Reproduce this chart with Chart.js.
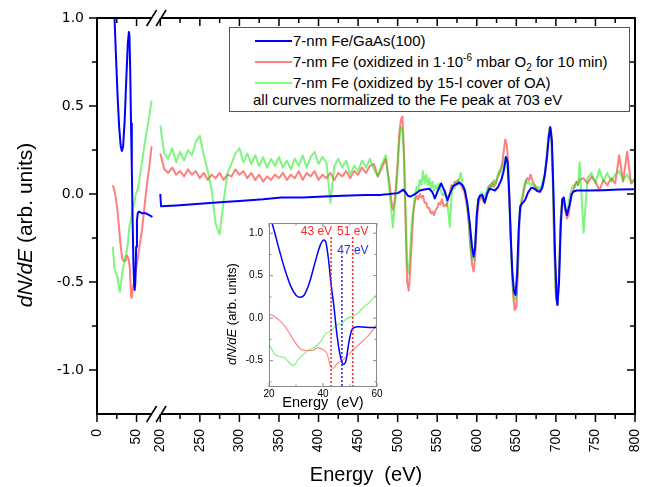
<!DOCTYPE html>
<html>
<head>
<meta charset="utf-8">
<title>dN/dE spectra of 7-nm Fe films</title>
<script src="https://cdn.jsdelivr.net/npm/chart.js@4.4.1/dist/chart.umd.min.js"></script>
<style>
  html, body { margin:0; padding:0; background:#fff; }
  #wrap { position:relative; width:649px; height:487px; overflow:hidden; background:#fff; }
  #main { position:absolute; left:0; top:0; }
  #inset { position:absolute; left:220px; top:215px; }
  #legend { position:absolute; left:229px; top:27px; width:399px; height:83px; border:1px solid #555; background:#fff;
            font-family:"Liberation Sans", Arial, Helvetica, sans-serif; font-size:15px; color:#000; }
  #legend .row { position:absolute; white-space:nowrap; line-height:18px; height:18px; }
  #legend .sw { position:absolute; width:37px; height:2px; }
  #legend sup, #legend sub { font-size:10px; line-height:0; }
</style>
</head>
<body>
<div id="wrap">
  <canvas id="main" width="649" height="487"></canvas>
  <div id="legend">
    <div class="sw" style="left:25px;top:12px;background:#0000ff"></div>
    <div class="row" style="left:63px;top:4px">7-nm Fe/GaAs(100)</div>
    <div class="sw" style="left:25px;top:33px;background:#ff8080"></div>
    <div class="row" style="left:63px;top:25px">7-nm Fe (oxidized in 1·10<sup>-6</sup> mbar O<sub>2</sub> for 10 min)</div>
    <div class="sw" style="left:25px;top:54px;background:#80ff80"></div>
    <div class="row" style="left:63px;top:46px">7-nm Fe (oxidized by 15-l cover of OA)</div>
    <div class="row" style="left:23px;top:63px">all curves normalized to the Fe peak at 703 eV</div>
  </div>
  <canvas id="inset" width="180" height="200"></canvas>
</div>
<script>
// ===================== DATA =====================
// Low-energy segment (20-70 eV)
const blueLeftE = [20, 22, 24, 26, 28, 30, 31.5, 33, 35, 37,
                   39, 40.3, 41, 42, 43, 44, 45, 46, 47, 47.6,
                   48.5, 49.5, 50.5, 51.5, 53, 55, 58, 62, 66, 70];
const blueLeft  = [1.25, 1.02, 0.78, 0.56, 0.38, 0.27, 0.245, 0.27, 0.42, 0.65,
                   0.86, 0.92, 0.90, 0.70, 0.40, 0.15, -0.15, -0.38, -0.52, -0.545,
                   -0.50, -0.30, -0.15, -0.11, -0.10, -0.105, -0.11, -0.11, -0.12, -0.13];

const redLeftE = [20, 22, 24, 26, 28, 30, 32, 34, 36, 38,
                  40, 41.5, 43, 44, 45, 47, 49, 51, 53, 55,
                  57, 60, 63, 66, 69];
const redLeft  = [0.05, 0.02, -0.03, -0.10, -0.20, -0.30, -0.37, -0.38, -0.38, -0.35,
                  -0.37, -0.42, -0.58, -0.59, -0.54, -0.50, -0.44, -0.38, -0.32, -0.26,
                  -0.20, -0.07, 0.05, 0.15, 0.27];

const greenLeftE = [20, 22, 24, 26, 28, 29, 31, 33, 35, 37,
                    39, 41, 43, 45, 47, 49, 51, 53, 55, 57,
                    60, 63, 66, 69];
const greenLeft  = [-0.30, -0.42, -0.45, -0.47, -0.54, -0.555, -0.48, -0.42, -0.37, -0.34,
                    -0.28, -0.18, -0.15, -0.08, -0.06, 0.0, 0.02, 0.06, 0.13, 0.18,
                    0.28, 0.36, 0.44, 0.53];

// High-energy segment (200-800 eV)
const blueRightE = [200, 201, 220, 250, 280, 300, 330, 353, 380, 400,
                    430, 460, 477, 490, 500, 504, 507, 510, 513, 516,
                    522, 528, 534, 540, 544, 547, 551, 555, 559, 563,
                    566, 570, 574, 578, 582, 585, 588, 591, 594, 596,
                    598, 600, 602, 604, 607, 610, 613, 616, 620, 623,
                    627, 631, 634, 637, 639, 641, 643, 645, 647, 649,
                    651, 653, 655, 658, 661, 665, 669, 673, 677, 680,
                    683, 686, 689, 691, 693, 695, 697, 699, 701, 702,
                    704, 706, 708, 710, 712, 714, 717, 720, 722, 726,
                    740, 760, 780, 800];
const blueRight  = [0.0, -0.07, -0.065, -0.055, -0.045, -0.04, -0.03, -0.02, -0.02, -0.015,
                    -0.01, -0.005, -0.005, 0.0, 0.005, 0.015, 0.025, 0.01, -0.01, -0.015,
                    0.0, 0.02, 0.025, 0.03, 0.01, -0.025, 0.02, 0.06, 0.02, -0.035,
                    0.0, 0.045, 0.055, 0.065, 0.05, 0.02, -0.05, -0.16, -0.30, -0.355,
                    -0.30, -0.12, -0.03, -0.01, -0.005, -0.05, 0.0, 0.03, 0.025, 0.02,
                    0.04, 0.08, 0.13, 0.21, 0.18, 0.0, -0.25, -0.45, -0.55, -0.573,
                    -0.45, -0.20, -0.07, -0.05, -0.035, 0.01, 0.036, 0.03, 0.015, 0.013,
                    0.04, 0.11, 0.22, 0.32, 0.38, 0.30, 0.0, -0.35, -0.60, -0.63,
                    -0.50, -0.20, -0.03, -0.02, -0.08, -0.12, -0.07, 0.0, 0.013, 0.02,
                    0.02, 0.022, 0.025, 0.027];

const noisyE = [200, 205, 210, 215, 220, 225, 230, 235, 240, 245,
                250, 255, 260, 265, 270, 275, 280, 285, 290, 295,
                300, 305, 310, 315, 320, 325, 330, 335, 340, 345,
                350, 355, 360, 365, 370, 375, 380, 385, 390, 395,
                400, 405, 410, 415, 420, 425, 430, 435, 440, 445,
                450, 455, 460, 465, 470, 475, 480, 485, 490,
                492, 494, 496, 498, 500, 502, 504, 506, 508, 510,
                512, 514, 516, 518, 520, 522, 524, 526, 528, 530,
                532, 534, 536, 538, 540, 542, 544, 546, 548, 550,
                552, 554, 556, 558, 560, 562, 564, 566, 568, 570,
                572, 574, 576, 578, 580, 582, 584, 586, 588, 590,
                592, 594, 596, 598, 600, 602, 604, 606, 608, 610,
                612, 614, 616, 618, 620, 622, 624, 626, 628, 630,
                632, 634, 636, 638, 640, 642, 644, 646, 648, 650,
                652, 654, 656, 658, 660, 662, 664, 666, 668, 670,
                672, 674, 676, 678, 680, 682, 684, 686, 688, 690,
                692, 694, 696, 698, 700, 702, 704, 706, 708, 710,
                712, 714, 716, 718, 720, 722, 724, 726, 728, 730,
                735, 740, 745, 750, 755, 760, 765, 770, 775, 780,
                785, 790, 795, 800];

const redRight = [0.23, 0.14, 0.12, 0.15, 0.11, 0.13, 0.10, 0.14, 0.11, 0.13,
                  0.09, 0.12, 0.08, 0.11, 0.09, 0.12, 0.08, 0.11, 0.10, 0.14,
                  0.11, 0.13, 0.09, 0.12, 0.08, 0.11, 0.07, 0.10, 0.08, 0.11,
                  0.09, 0.12, 0.08, 0.11, 0.09, 0.13, 0.08, 0.12, 0.10, 0.13,
                  0.08, 0.11, 0.09, 0.12, 0.08, 0.12, 0.10, 0.13, 0.09, 0.13,
                  0.11, 0.15, 0.12, 0.16, 0.17, 0.10, 0.15, 0.20, 0.05,
                  -0.04, -0.09, -0.05, 0.05, 0.18, 0.34, 0.42, 0.44, 0.25, -0.15,
                  -0.50, -0.55, -0.42, -0.25, -0.10, -0.04, -0.01, -0.03, 0.0, -0.02,
                  -0.01, -0.05, -0.05, -0.08, -0.08, -0.11, -0.10, -0.12, -0.09, -0.08,
                  -0.05, -0.06, -0.03, -0.07, -0.06, -0.07, -0.02, 0.01, 0.05, 0.04,
                  0.07, 0.06, 0.08, 0.06, 0.05, 0.03, 0.02, -0.03, -0.08, -0.17,
                  -0.30, -0.40, -0.44, -0.36, -0.17, -0.06, -0.03, -0.01, -0.04, -0.05,
                  -0.02, 0.02, 0.05, 0.04, 0.07, 0.04, 0.06, 0.09, 0.11, 0.14,
                  0.17, 0.24, 0.31, 0.28, 0.15, -0.10, -0.38, -0.58, -0.66, -0.64,
                  -0.45, -0.15, -0.06, -0.02, 0.03, 0.07, 0.09, 0.08, 0.11, 0.08,
                  0.06, 0.04, 0.03, 0.02, 0.015, 0.03, 0.06, 0.10, 0.18, 0.30,
                  0.38, 0.36, 0.10, -0.30, -0.58, -0.63, -0.45, -0.15, -0.04, -0.05,
                  -0.10, -0.14, -0.12, -0.05, 0.0, 0.02, 0.05, 0.07, 0.05, 0.08,
                  0.09, 0.06, 0.10, 0.07, 0.02, 0.08, 0.05, 0.09, 0.06, 0.22,
                  0.07, 0.24, 0.06, 0.08];

const greenRight = [0.39, 0.23, 0.20, 0.26, 0.18, 0.24, 0.19, 0.25, 0.22, 0.30,
                    0.33, 0.22, 0.13, 0.02, -0.17, -0.23, -0.04, 0.12, 0.17, 0.23,
                    0.26, 0.18, 0.23, 0.17, 0.22, 0.16, 0.21, 0.15, 0.20, 0.16,
                    0.21, 0.15, 0.19, 0.14, 0.20, 0.16, 0.22, 0.15, 0.21, 0.24,
                    0.17, 0.21, 0.18, -0.05, 0.16, 0.20, 0.15, 0.19, 0.11, 0.16,
                    0.13, 0.19, 0.15, 0.20, 0.14, 0.10, 0.17, 0.22, 0.0,
                    -0.09, -0.19, -0.08, 0.0, 0.15, 0.30, 0.38, 0.36, 0.20, -0.10,
                    -0.40, -0.45, -0.32, -0.15, -0.08, 0.0, 0.04, 0.02, 0.08, 0.05,
                    0.13, 0.06, 0.11, 0.05, 0.09, 0.03, 0.07, 0.02, 0.05, 0.03,
                    0.06, 0.03, 0.0, -0.01, 0.02, -0.03, -0.10, -0.185, -0.02, 0.05,
                    0.03, 0.07, 0.05, 0.09, 0.12, 0.05, 0.04, 0.0, -0.07, -0.17,
                    -0.30, -0.37, -0.375, -0.28, -0.10, -0.03, -0.015, 0.01, -0.03, -0.02,
                    0.01, 0.04, 0.02, 0.06, 0.04, 0.08, 0.06, 0.10, 0.13, 0.12,
                    0.15, 0.18, 0.21, 0.20, 0.08, -0.15, -0.40, -0.55, -0.60, -0.58,
                    -0.42, -0.10, -0.05, 0.0, 0.05, 0.08, 0.06, 0.07, 0.05, 0.06,
                    0.04, 0.05, 0.03, 0.04, 0.03, 0.05, 0.08, 0.12, 0.20, 0.30,
                    0.37, 0.35, 0.10, -0.30, -0.58, -0.62, -0.45, -0.15, -0.04, -0.04,
                    -0.08, -0.09, -0.06, 0.0, 0.03, 0.05, 0.04, 0.07, 0.05, 0.18,
                    -0.22, 0.09, 0.12, 0.06, 0.14, 0.07, 0.12, 0.07, 0.11, 0.13,
                    0.08, 0.11, 0.07, 0.09];

// Tick values
const xMajorTicks = [0, 50, 200, 250, 300, 350, 400, 450, 500, 550, 600, 650, 700, 750, 800];
const xMinorTicks = [25, 225, 275, 325, 375, 425, 475, 525, 575, 625, 675, 725, 775];
const yMajorTicks = [-1.0, -0.5, 0.0, 0.5, 1.0];
const yMinorTicks = [-0.75, -0.25, 0.25, 0.75];
const insetXTicks = [20, 40, 60];
const insetXMinor = [30, 50];
const insetYTicks = [-0.5, 0.0, 0.5, 1.0];
const insetYMinor = [-0.75, -0.25, 0.25, 0.75];
const markerE = [43, 47, 51];

// ===================== HELPERS =====================
if (noisyE.length !== redRight.length || noisyE.length !== greenRight.length ||
    blueRightE.length !== blueRight.length || blueLeftE.length !== blueLeft.length ||
    redLeftE.length !== redLeft.length || greenLeftE.length !== greenLeft.length) {
  console.error('data length mismatch');
}
// Broken axis: the 200-800 eV part is drawn shifted left by SHIFT eV.
const SHIFT = 120;
const toV = e => (e >= 100 ? e - SHIFT : e);
const fromV = v => (v >= 75 ? v + SHIFT : v);
const BREAK_A = 69, BREAK_B = 81;

const FONT = '"Liberation Sans", Arial, Helvetica, sans-serif';
const BLUE = '#0000ff';
const RED = 'rgba(255,0,0,0.5)';
const GREEN = 'rgba(0,235,0,0.5)';

function pts(E, Y, map) { return E.map((e, i) => ({ x: map(e), y: Y[i] })); }
function mainSeries(LE, LY, RE, RY) {
  return pts(LE, LY, toV).concat([{ x: 75, y: null }], pts(RE, RY, toV));
}
function line(ctx, x1, y1, x2, y2) { ctx.beginPath(); ctx.moveTo(x1, y1); ctx.lineTo(x2, y2); ctx.stroke(); }
function fixX(h) { return s => { s.height = h; s.paddingLeft = 0; s.paddingRight = 0; }; }
function fixY(w) { return s => { s.width = w; s.paddingTop = 0; s.paddingBottom = 0; }; }

function drawMixedRotated(ctx, cx, cy, parts) {
  ctx.save();
  ctx.translate(cx, cy);
  ctx.rotate(-Math.PI / 2);
  let total = 0;
  parts.forEach(p => { ctx.font = p.font; p.w = ctx.measureText(p.text).width; total += p.w; });
  let sx = -total / 2;
  ctx.textAlign = 'left'; ctx.textBaseline = 'middle';
  parts.forEach(p => { ctx.font = p.font; ctx.fillText(p.text, sx, 0); sx += p.w; });
  ctx.restore();
}

// ===================== MAIN CHART =====================
const mainFrame = {
  id: 'mainFrame',
  afterDraw(chart) {
    const { ctx, chartArea: a, scales: { x, y } } = chart;
    ctx.save();
    ctx.strokeStyle = '#000';
    ctx.lineWidth = 2;
    const b1 = x.getPixelForValue(BREAK_A), b2 = x.getPixelForValue(BREAK_B);
    line(ctx, a.left, a.top - 1, a.left, a.bottom + 1);
    line(ctx, a.right, a.top - 1, a.right, a.bottom + 1);
    [a.top, a.bottom].forEach(yy => { line(ctx, a.left, yy, b1, yy); line(ctx, b2, yy, a.right, yy); });
    ctx.lineWidth = 1.5;
    xMajorTicks.forEach(e => { const p = x.getPixelForValue(toV(e)); line(ctx, p, a.bottom, p, a.bottom + 8); line(ctx, p, a.top, p, a.top + 8); });
    xMinorTicks.forEach(e => { const p = x.getPixelForValue(toV(e)); line(ctx, p, a.bottom, p, a.bottom + 5); line(ctx, p, a.top, p, a.top + 5); });
    yMajorTicks.forEach(v => { const p = y.getPixelForValue(v); line(ctx, a.left - 8, p, a.left, p); line(ctx, a.right - 8, p, a.right, p); });
    yMinorTicks.forEach(v => { const p = y.getPixelForValue(v); line(ctx, a.left - 5, p, a.left, p); line(ctx, a.right - 5, p, a.right, p); });
    [b1, b2].forEach(b => [a.top, a.bottom].forEach(yy => line(ctx, b - 5, yy + 8, b + 5, yy - 8)));
    // axis titles
    ctx.fillStyle = '#000';
    ctx.font = '20px ' + FONT;
    ctx.textAlign = 'center'; ctx.textBaseline = 'alphabetic';
    ctx.fillText('Energy  (eV)', (a.left + a.right) / 2, 481);
    drawMixedRotated(ctx, 26, 225, [
      { text: 'dN/dE', font: 'italic 21px ' + FONT },
      { text: ' (arb. units)', font: '21px ' + FONT }
    ]);
    ctx.restore();
  }
};

new Chart(document.getElementById('main'), {
  type: 'line',
  data: {
    datasets: [
      { label: '7-nm Fe/GaAs(100)', data: mainSeries(blueLeftE, blueLeft, blueRightE, blueRight), borderColor: BLUE, borderWidth: 2 },
      { label: '7-nm Fe (oxidized by 15-l cover of OA)', data: mainSeries(greenLeftE, greenLeft, noisyE, greenRight), borderColor: GREEN, borderWidth: 2 },
      { label: '7-nm Fe (oxidized in 1e-6 mbar O2 for 10 min)', data: mainSeries(redLeftE, redLeft, noisyE, redRight), borderColor: RED, borderWidth: 2 }
    ]
  },
  options: {
    responsive: false, animation: false, devicePixelRatio: 1,
    spanGaps: false,
    elements: { point: { radius: 0 }, line: { tension: 0, borderJoinStyle: 'round' } },
    layout: { padding: { left: 0, right: 14, top: 18, bottom: 0 } },
    plugins: { legend: { display: false }, tooltip: { enabled: false } },
    scales: {
      x: {
        type: 'linear', min: 0, max: toV(800),
        afterBuildTicks: s => { s.ticks = xMajorTicks.map(e => ({ value: toV(e) })); },
        afterFit: fixX(73),
        grid: { display: false, drawTicks: false }, border: { display: false },
        ticks: { autoSkip: false, maxRotation: 90, minRotation: 90, padding: 15, color: '#000',
                 font: { family: FONT, size: 14 }, callback: v => String(fromV(v)) }
      },
      y: {
        type: 'linear', min: -1.25, max: 1.0,
        afterBuildTicks: s => { s.ticks = yMajorTicks.map(v => ({ value: v })); },
        afterFit: fixY(97),
        grid: { display: false, drawTicks: false }, border: { display: false },
        ticks: { padding: 13, color: '#000', font: { family: '"DejaVu Sans", sans-serif', size: 14 },
                 callback: v => Number(v).toFixed(1) }
      }
    }
  },
  plugins: [mainFrame]
});

// ===================== INSET =====================
const insetFrame = {
  id: 'insetFrame',
  beforeDatasetsDraw(chart) {
    const { ctx, chartArea: a } = chart;
    ctx.save(); ctx.fillStyle = '#fff';
    ctx.fillRect(a.left, a.top, a.right - a.left, a.bottom - a.top);
    ctx.restore();
  },
  afterDraw(chart) {
    const { ctx, chartArea: a, scales: { x, y } } = chart;
    ctx.save();
    // marker lines
    const mColors = ['#ff2a2a', '#2a2aff', '#ff2a2a'];
    const mStart = [14, 33, 14];
    markerE.forEach((e, i) => {
      const p = x.getPixelForValue(e);
      ctx.strokeStyle = mColors[i]; ctx.lineWidth = 1.6; ctx.setLineDash([2, 2]);
      line(ctx, p, a.top + mStart[i], p, a.bottom);
    });
    ctx.setLineDash([]);
    // marker labels
    ctx.font = '12px ' + FONT; ctx.textBaseline = 'middle';
    ctx.fillStyle = mColors[0]; ctx.textAlign = 'right';
    ctx.fillText(markerE[0] + ' eV', x.getPixelForValue(markerE[0]) + 1, a.top + 9);
    ctx.fillStyle = mColors[2]; ctx.textAlign = 'center';
    ctx.fillText(markerE[2] + ' eV', x.getPixelForValue(markerE[2]), a.top + 9);
    ctx.fillStyle = mColors[1]; ctx.textAlign = 'center';
    ctx.fillText(markerE[1] + ' eV', x.getPixelForValue(markerE[1]) + 11, a.top + 28);
    // frame
    ctx.strokeStyle = '#8a8a8a'; ctx.lineWidth = 1;
    ctx.strokeRect(a.left + 0.5, a.top + 0.5, a.right - a.left - 1, a.bottom - a.top - 1);
    insetXTicks.forEach(e => { const p = x.getPixelForValue(e); line(ctx, p, a.bottom, p, a.bottom - 4); line(ctx, p, a.top, p, a.top + 4); });
    insetXMinor.forEach(e => { const p = x.getPixelForValue(e); line(ctx, p, a.bottom, p, a.bottom - 2.5); line(ctx, p, a.top, p, a.top + 2.5); });
    insetYTicks.forEach(v => { const p = y.getPixelForValue(v); line(ctx, a.left, p, a.left + 4, p); line(ctx, a.right, p, a.right - 4, p); });
    insetYMinor.forEach(v => { const p = y.getPixelForValue(v); line(ctx, a.left, p, a.left + 2.5, p); line(ctx, a.right, p, a.right - 2.5, p); });
    // titles
    ctx.fillStyle = '#000';
    ctx.font = '14.5px ' + FONT; ctx.textAlign = 'center'; ctx.textBaseline = 'alphabetic';
    ctx.fillText('Energy  (eV)', (a.left + a.right) / 2, 192);
    drawMixedRotated(ctx, 12, 99, [
      { text: 'dN/dE', font: 'italic 13px ' + FONT },
      { text: ' (arb. units)', font: '13px ' + FONT }
    ]);
    ctx.restore();
  }
};

new Chart(document.getElementById('inset'), {
  type: 'line',
  data: {
    datasets: [
      { data: pts(blueLeftE, blueLeft, e => e), borderColor: BLUE, borderWidth: 1.5 },
      { data: pts(greenLeftE, greenLeft, e => e), borderColor: 'rgba(0,235,0,0.55)', borderWidth: 1.1 },
      { data: pts(redLeftE, redLeft, e => e), borderColor: 'rgba(255,0,0,0.5)', borderWidth: 1.1 }
    ]
  },
  options: {
    responsive: false, animation: false, devicePixelRatio: 1,
    elements: { point: { radius: 0 }, line: { cubicInterpolationMode: 'monotone' } },
    layout: { padding: { left: 0, right: 23, top: 8, bottom: 0 } },
    plugins: { legend: { display: false }, tooltip: { enabled: false } },
    scales: {
      x: {
        type: 'linear', min: 20, max: 60,
        afterBuildTicks: s => { s.ticks = insetXTicks.map(v => ({ value: v })); },
        afterFit: fixX(28),
        grid: { display: false, drawTicks: false }, border: { display: false },
        ticks: { autoSkip: false, maxRotation: 0, minRotation: 0, padding: 1, color: '#000',
                 font: { family: FONT, size: 10 } }
      },
      y: {
        type: 'linear', min: -0.81, max: 1.12,
        afterBuildTicks: s => { s.ticks = insetYTicks.map(v => ({ value: v })); },
        afterFit: fixY(49),
        grid: { display: false, drawTicks: false }, border: { display: false },
        ticks: { padding: 6, color: '#000', font: { family: FONT, size: 10 },
                 callback: v => Number(v).toFixed(1) }
      }
    }
  },
  plugins: [insetFrame]
});
</script>
</body>
</html>
